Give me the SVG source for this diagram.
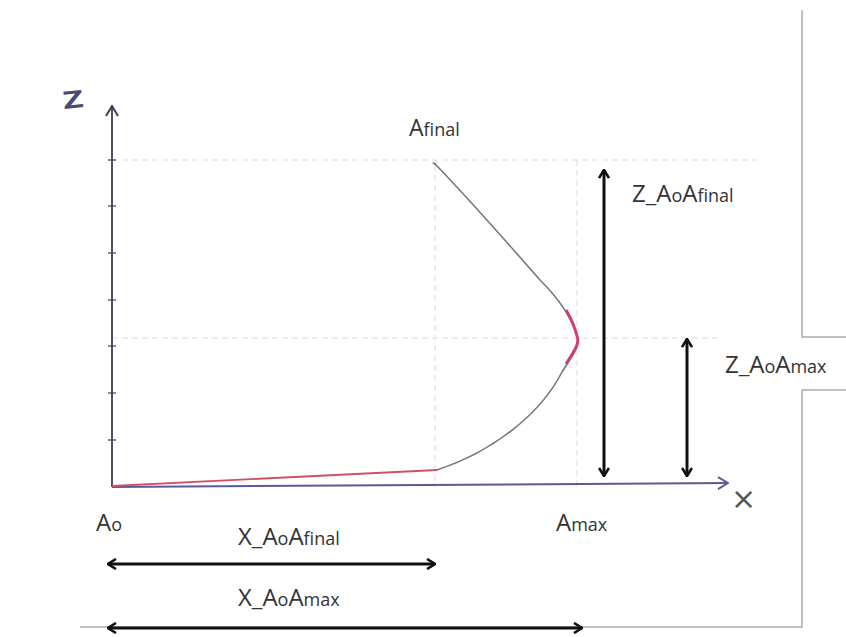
<svg xmlns="http://www.w3.org/2000/svg" width="846" height="637" viewBox="0 0 846 637">
<defs>
<style>
.lbl{font-family:"Open Sans","Liberation Sans",sans-serif;fill:#333;}
.big{font-size:24px;}
.sub{font-size:18px;}
.grid{stroke:#dcdcdc;stroke-width:1;stroke-dasharray:6 4;fill:none;}
.dim{stroke:#111;stroke-width:3;fill:none;}
.border{stroke:#aaa;stroke-width:1.5;fill:none;}
</style>
<marker id="ah" viewBox="0 0 10 12" refX="9" refY="6" markerWidth="10" markerHeight="12" markerUnits="userSpaceOnUse" orient="auto-start-reverse">
<path d="M1,1 L9,6 L1,11" stroke="#111" stroke-width="2.6" fill="none" stroke-linejoin="miter"/>
</marker>
<marker id="axh" viewBox="0 0 12 14" refX="11" refY="7" markerWidth="12" markerHeight="14" markerUnits="userSpaceOnUse" orient="auto">
<path d="M1,1 L11,7 L1,13" stroke="#5a5a9a" stroke-width="2" fill="none"/>
</marker>
<marker id="azh" viewBox="0 0 12 14" refX="11" refY="7" markerWidth="12" markerHeight="14" markerUnits="userSpaceOnUse" orient="auto">
<path d="M1,1 L11,7 L1,13" stroke="#3c3c5c" stroke-width="2" fill="none"/>
</marker>
</defs>
<rect width="846" height="637" fill="#ffffff"/>
<g id="frame">
<path class="border" d="M802,10 V337 H846 M846,390 H802 V627 H80"/>
</g>
<g id="grid">
<line class="grid" x1="112" y1="160" x2="760" y2="160"/>
<line class="grid" x1="112" y1="338" x2="720" y2="338"/>
<line class="grid" x1="435" y1="165" x2="435" y2="487"/>
<line class="grid" x1="577" y1="160" x2="577" y2="487"/>
</g>
<g id="axes">
<line x1="112" y1="487" x2="112" y2="106" stroke="#3c3c5c" stroke-width="1.8" marker-end="url(#azh)"/>
<g stroke="#3c3c5c" stroke-width="1.2">
<line x1="108" y1="160" x2="116" y2="160"/>
<line x1="108" y1="206" x2="116" y2="206"/>
<line x1="108" y1="253" x2="116" y2="253"/>
<line x1="108" y1="300" x2="116" y2="300"/>
<line x1="108" y1="346" x2="116" y2="346"/>
<line x1="108" y1="393" x2="116" y2="393"/>
<line x1="108" y1="440" x2="116" y2="440"/>
</g>
<line x1="112" y1="487" x2="728" y2="483" stroke="#5a5a9a" stroke-width="2" marker-end="url(#axh)"/>
<text x="0" y="0" style="font-family:'Open Sans','Liberation Sans',sans-serif;font-size:24px;font-weight:bold;fill:#4a4a78" transform="translate(64 109) rotate(-6) scale(1.45 1)">Z</text>
<text x="731" y="509" style="font-family:'DejaVu Sans','Liberation Sans',sans-serif;font-size:30px;fill:#555">×</text>
</g>
<g id="curve">
<path d="M112,486 L437,470" stroke="#d0506a" stroke-width="1.8" fill="none"/>
<path d="M437,470 C492,452 540,415 562,372 C575,352 580,345 577,336 C572,318 560,300 540,280 C505,240 465,195 437,166 C434,163 431,162 436,164" stroke="#777" stroke-width="1.6" fill="none"/>
<path d="M566,364 C575,350 580,343 577,336 C575,328 572,320 566,310" stroke="#d0406a" stroke-width="3" fill="none"/>
</g>
<g id="connectors">
<line class="dim" x1="604" y1="170" x2="604" y2="476" marker-start="url(#ah)" marker-end="url(#ah)"/>
<line class="dim" x1="687" y1="339" x2="687" y2="476" marker-start="url(#ah)" marker-end="url(#ah)"/>
<line class="dim" x1="108" y1="564" x2="435" y2="564" marker-start="url(#ah)" marker-end="url(#ah)"/>
<line class="dim" x1="108" y1="628" x2="582" y2="628" marker-start="url(#ah)" marker-end="url(#ah)"/>
</g>
<g id="label-afinal"><text class="lbl" x="409" y="136"><tspan style="font-size:23px">A</tspan><tspan style="font-size:18px">final</tspan></text></g>
<g id="label-a0"><text class="lbl" x="96" y="531"><tspan class="big">A</tspan><tspan class="sub">o</tspan></text></g>
<g id="label-amax"><text class="lbl" x="556" y="531"><tspan class="big">A</tspan><tspan class="sub">max</tspan></text></g>
<g id="label-z-final"><text class="lbl" x="632" y="202"><tspan class="big">Z_A</tspan><tspan class="sub">o</tspan><tspan class="big">A</tspan><tspan class="sub">final</tspan></text></g>
<g id="label-z-max"><text class="lbl" x="725" y="373"><tspan class="big">Z_A</tspan><tspan class="sub">o</tspan><tspan class="big">A</tspan><tspan class="sub">max</tspan></text></g>
<g id="label-x-final"><text class="lbl" x="238" y="545"><tspan class="big">X_A</tspan><tspan class="sub">o</tspan><tspan class="big">A</tspan><tspan class="sub">final</tspan></text></g>
<g id="label-x-max"><text class="lbl" x="238" y="606"><tspan class="big">X_A</tspan><tspan class="sub">o</tspan><tspan class="big">A</tspan><tspan class="sub">max</tspan></text></g>
</svg>
